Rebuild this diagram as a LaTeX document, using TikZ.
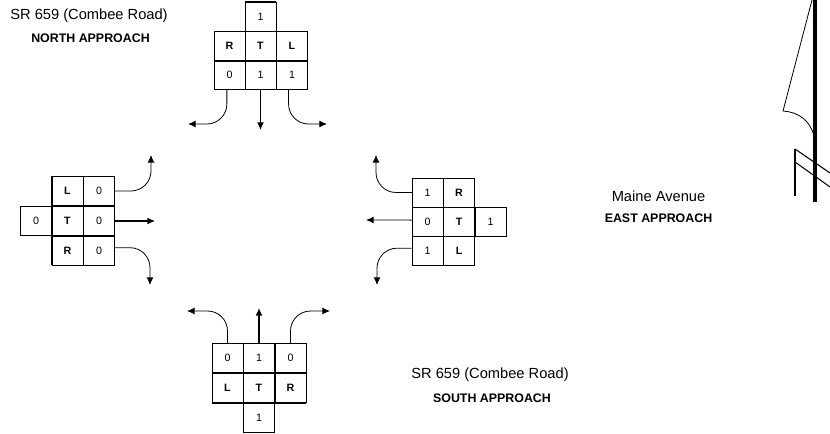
\documentclass[tikz,border=0pt]{standalone}
\usepackage{fontspec}
\setmainfont{Liberation Sans}
\usetikzlibrary{arrows.meta}
\begin{document}
\begin{tikzpicture}[x=.75pt,y=-.75pt,font=\fontsize{8}{10}\selectfont,>={Latex[length=2mm,width=1.8mm]},
  cell/.style={draw,line width=.5pt,minimum width=23.4pt,minimum height=21.9pt,inner sep=0pt,anchor=center},
  mv/.style={cell,font=\fontsize{8}{10}\selectfont\bfseries},
  flow/.style={->,line width=.6pt,rounded corners=15pt},
  thru/.style={->,line width=.9pt},
  heavy/.style={line width=1.3pt},
  lbl/.style={inner sep=0pt,align=center,font=\fontsize{11}{13}\selectfont},
  lblb/.style={inner sep=0pt,align=center,font=\fontsize{9.3}{11}\selectfont\bfseries}]
\useasboundingbox (0,0) rectangle (830,434);
% north approach
\node[cell] (na) at (260.5,17) {1};
\node[mv] (nr) at (229.5,46) {R};
\node[mv] (nt) at (260.5,46) {T};
\node[mv] (nl) at (292,46) {L};
\node[cell] (n0) at (229.5,75) {0};
\node[cell] (n1) at (260.5,75) {1};
\node[cell] (n2) at (292,75) {1};
\draw[heavy] (na.north west)--(na.north east);
\draw[heavy] (nr.south west)--(nl.south east);
\coordinate (nx0) at (188,124); \coordinate (nx1) at (260.5,130); \coordinate (nx2) at (327,124);
\draw[flow] (n0.-100) |- (nx0);
\draw[thru] (n1.south) -- (nx1);
\draw[flow] (n2.-103) |- (nx2);
% west approach
\node[cell] (wa) at (36,221) {0};
\node[mv] (wl) at (67.5,191) {L};
\node[mv] (wt) at (67.5,221) {T};
\node[mv] (wr) at (67.5,250.5) {R};
\node[cell] (w0) at (99,191) {0};
\node[cell] (w1) at (99,221) {0};
\node[cell] (w2) at (99,250.5) {0};
\draw[heavy] (wl.north west)--(wr.south west);
\coordinate (wx0) at (151,155); \coordinate (wx1) at (155,221); \coordinate (wx2) at (150,285);
\draw[flow] (w0.east) -| (wx0);
\draw[thru] (w1.east) -- (wx1);
\draw[flow] (w2.10) -| (wx2);
% east approach
\node[cell] (e0) at (427.5,192.5) {1};
\node[cell] (e1) at (427.5,221.5) {0};
\node[cell] (e2) at (427.5,251) {1};
\node[mv] (er) at (459,192.5) {R};
\node[mv] (et) at (459,221.5) {T};
\node[mv] (el) at (459,251) {L};
\node[cell] (ea) at (490.5,221.5) {1};
\draw[heavy] (e1.south west)--(ea.south east)--(ea.north east);
\coordinate (ex0) at (376,155); \coordinate (ex1) at (366,220); \coordinate (ex2) at (377,285);
\draw[heavy] (e0.west) -- ++(-14,0);
\draw[flow] (e0.west) -| (ex0);
\draw[->,line width=.6pt] (e1.175) -- (ex1);
\draw[flow] (e2.170) -| (ex2);
% south approach
\node[cell] (s0) at (227.5,358) {0};
\node[cell] (s1) at (259,358) {1};
\node[cell] (s2) at (290.5,358) {0};
\node[mv] (sl) at (227.5,388) {L};
\node[mv] (st) at (259,388) {T};
\node[mv] (sr) at (290.5,388) {R};
\node[cell] (sa) at (259,417.5) {1};
\draw[line width=.9pt] (sl.north west)--(sr.north east);
\draw[heavy] (sl.south west)--(sr.south east);
\draw[heavy] (sa.south west)--(sa.south east);
\coordinate (sx0) at (187,311); \coordinate (sx1) at (259,308); \coordinate (sx2) at (330,311);
\draw[flow] (s0.north) |- (sx0);
\draw[thru] (s1.north) -- (sx1);
\draw[flow] (s2.north) |- (sx2);
% street names
\node[lbl] (nname) at (89,16) {SR 659 (Combee Road)};
\node[lblb] (ncap) at (90.5,38.5) {NORTH APPROACH};
\node[lbl] (ename) at (658.5,196) {Maine Avenue};
\node[lblb] (ecap) at (658.5,218) {EAST APPROACH};
\node[lbl] (sname) at (490,375) {SR 659 (Combee Road)};
\node[lblb] (scap) at (492,398) {SOUTH APPROACH};
% north arrow
\draw[line width=2.8pt] (815,0)--(815,202);
\draw[line width=.6pt] (812,0)--(783,111) .. controls (798,112) and (810,120) .. (814,136);
\draw[line width=1.2pt] (795,196)--(795,149);
\draw[line width=.8pt] (795,149)--(830,173) (795,162)--(830,187);
\end{tikzpicture}
\end{document}
